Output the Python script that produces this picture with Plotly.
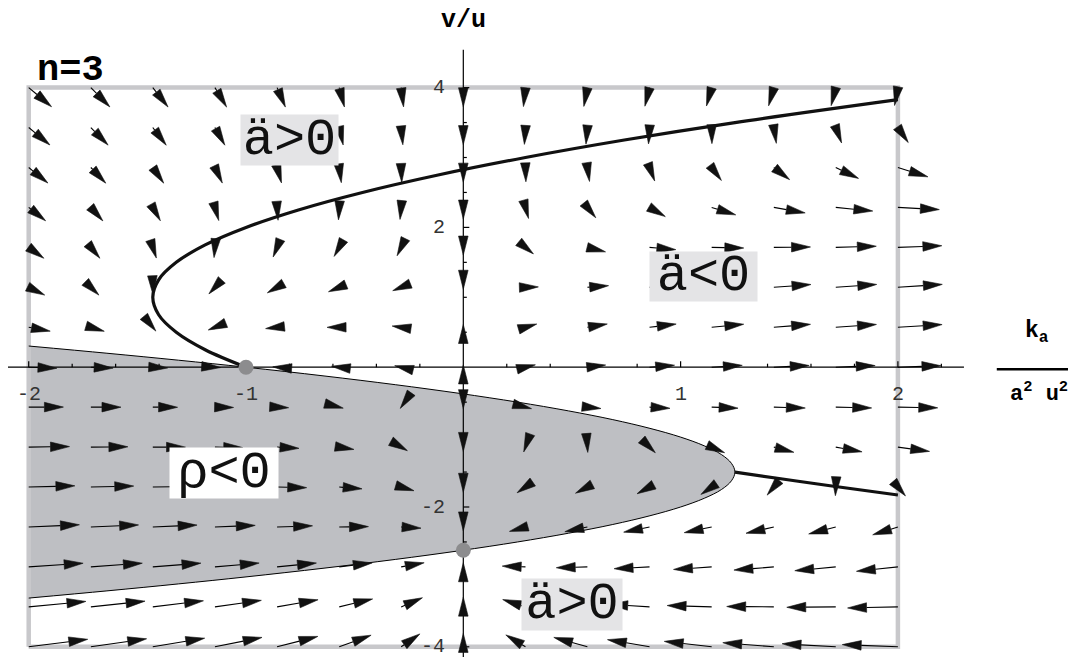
import math
import plotly.graph_objects as go

# grid of the vector field (k_a/(a^2 u^2) across, v/u down)
X_GRID = [-2.0, -1.714, -1.429, -1.143, -0.857, -0.571, -0.286, 0.0,
          0.286, 0.571, 0.857, 1.143, 1.429, 1.714, 2.0]
Y_GRID = [4.0, 3.429, 2.857, 2.286, 1.714, 1.143, 0.571, 0.0,
          -0.571, -1.143, -1.714, -2.286, -2.857, -3.429, -4.0]

# field components at each grid point, one row per Y_GRID value
U = [
    [24.8, 19.89, 15.43, 11.43, 7.89, 4.8, 2.17, 0, -1.71, -2.97, -3.77, -4.11, -4.0, -3.43, -2.4],
    [17.36, 13.5, 10.11, 7.17, 4.7, 2.67, 1.11, 0, -0.65, -0.84, -0.58, 0.14, 1.32, 2.95, 5.05],
    [11.48, 8.47, 5.91, 3.82, 2.18, 0.99, 0.27, 0, 0.19, 0.84, 1.94, 3.5, 5.52, 7.99, 10.92],
    [7.17, 4.77, 2.83, 1.35, 0.33, -0.24, -0.35, 0, 0.81, 2.07, 3.79, 5.96, 8.6, 11.69, 15.23],
    [4.43, 2.42, 0.88, -0.21, -0.85, -1.02, -0.74, 0, 1.2, 2.85, 4.96, 7.53, 10.55, 14.04, 17.98],
    [3.25, 1.41, 0.04, -0.89, -1.35, -1.36, -0.91, 0, 1.37, 3.19, 5.47, 8.2, 11.39, 15.04, 19.15],
    [3.64, 1.75, 0.32, -0.66, -1.18, -1.25, -0.85, 0, 1.31, 3.07, 5.3, 7.98, 11.11, 14.71, 18.76],
    [5.6, 3.43, 1.71, 0.46, -0.34, -0.69, -0.57, 0, 1.03, 2.51, 4.46, 6.86, 9.71, 13.03, 16.8],
    [9.13, 6.45, 4.23, 2.47, 1.17, 0.32, -0.07, 0, 0.53, 1.51, 2.95, 4.84, 7.2, 10.01, 13.27],
    [14.22, 10.82, 7.87, 5.38, 3.35, 1.78, 0.66, 0, -0.2, 0.05, 0.76, 1.93, 3.56, 5.64, 8.18],
    [20.88, 16.53, 12.63, 9.19, 6.21, 3.68, 1.61, 0, -1.16, -1.85, -2.09, -1.88, -1.2, -0.07, 1.52],
    [29.11, 23.58, 18.51, 13.89, 9.73, 6.03, 2.79, 0, -2.33, -4.2, -5.62, -6.58, -7.08, -7.12, -6.71],
    [38.91, 31.98, 25.51, 19.49, 13.93, 8.83, 4.19, 0, -3.73, -7.0, -9.82, -12.18, -14.08, -15.52, -16.51],
    [50.27, 41.72, 33.62, 25.98, 18.8, 12.08, 5.81, 0, -5.35, -10.25, -14.69, -18.67, -22.19, -25.26, -27.87],
    [63.2, 52.8, 42.86, 33.37, 24.34, 15.77, 7.66, 0, -7.2, -13.94, -20.23, -26.06, -31.43, -36.34, -40.8],
]
V = [
    [-64.6, -62.83, -61.06, -59.29, -57.51, -55.74, -53.97, -52.2, -50.43, -48.66, -46.89, -45.11, -43.34, -41.57, -39.8],
    [-44.37, -42.83, -41.29, -39.75, -38.2, -36.66, -35.12, -33.57, -32.03, -30.49, -28.95, -27.4, -25.86, -24.32, -22.77],
    [-28.96, -27.65, -26.33, -25.02, -23.71, -22.39, -21.08, -19.76, -18.45, -17.13, -15.82, -14.5, -13.19, -11.88, -10.56],
    [-17.69, -16.61, -15.52, -14.44, -13.35, -12.26, -11.18, -10.09, -9.01, -7.92, -6.84, -5.75, -4.66, -3.58, -2.49],
    [-9.89, -9.04, -8.18, -7.32, -6.46, -5.61, -4.75, -3.89, -3.04, -2.18, -1.32, -0.46, 0.39, 1.25, 2.11],
    [-4.89, -4.26, -3.64, -3.01, -2.38, -1.75, -1.12, -0.49, 0.14, 0.77, 1.39, 2.02, 2.65, 3.28, 3.91],
    [-2.02, -1.62, -1.22, -0.82, -0.42, -0.02, 0.38, 0.78, 1.18, 1.58, 1.98, 2.38, 2.78, 3.18, 3.58],
    [-0.6, -0.43, -0.26, -0.09, 0.09, 0.26, 0.43, 0.6, 0.77, 0.94, 1.11, 1.29, 1.46, 1.63, 1.8],
    [0.03, -0.02, -0.08, -0.14, -0.19, -0.25, -0.31, -0.37, -0.42, -0.48, -0.54, -0.59, -0.65, -0.71, -0.77],
    [0.56, 0.27, -0.02, -0.3, -0.59, -0.87, -1.16, -1.44, -1.73, -2.02, -2.3, -2.59, -2.87, -3.16, -3.44],
    [1.64, 1.13, 0.61, 0.1, -0.42, -0.93, -1.45, -1.96, -2.48, -2.99, -3.5, -4.02, -4.53, -5.05, -5.56],
    [3.95, 3.21, 2.47, 1.72, 0.98, 0.24, -0.5, -1.25, -1.99, -2.73, -3.48, -4.22, -4.96, -5.71, -6.45],
    [8.17, 7.2, 6.23, 5.26, 4.28, 3.31, 2.34, 1.37, 0.4, -0.57, -1.55, -2.52, -3.49, -4.46, -5.43],
    [14.96, 13.76, 12.56, 11.36, 10.16, 8.96, 7.76, 6.56, 5.36, 4.16, 2.96, 1.76, 0.56, -0.64, -1.84],
    [25.0, 23.57, 22.14, 20.71, 19.29, 17.86, 16.43, 15.0, 13.57, 12.14, 10.71, 9.29, 7.86, 6.43, 5.0],
]

# rho = 0 boundary (gray region is rho < 0)
RHO_Y = [0.303, 0.2, 0.1, 0.0, -0.125, -0.25, -0.375, -0.5, -0.625, -0.75, -0.875, -1.0,
         -1.125, -1.25, -1.375, -1.5, -1.625, -1.75, -1.875, -2.0, -2.125, -2.25,
         -2.375, -2.5, -2.625, -2.75, -2.875, -3.0, -3.1, -3.2, -3.303]
RHO_X = [-2.0, -1.64, -1.31, -1.0, -0.641, -0.313, -0.016, 0.25, 0.484, 0.688, 0.859, 1.0,
         1.109, 1.188, 1.234, 1.25, 1.234, 1.188, 1.109, 1.0, 0.859, 0.688,
         0.484, 0.25, -0.016, -0.313, -0.641, -1.0, -1.31, -1.64, -2.0]

# acceleration = 0 curve, the two visible pieces
ACC_UP_Y = [0.0, 0.25, 0.5, 0.75, 1.0, 1.25, 1.5, 1.75, 2.0, 2.25, 2.5, 2.75, 3.0, 3.25, 3.5, 3.828]
ACC_UP_X = [-1.0, -1.188, -1.321, -1.402, -1.429, -1.402, -1.321, -1.188, -1.0, -0.759,
            -0.464, -0.116, 0.286, 0.741, 1.25, 2.0]
ACC_LOW_Y = [-1.5, -1.6, -1.7, -1.828]
ACC_LOW_X = [1.25, 1.469, 1.696, 2.0]

CRIT_X = [-1.0, 0.0]
CRIT_Y = [0.0, -2.618]

X_MAJOR = [-2, -1, 1, 2]
X_MAJOR_LABELS = ["-2", "-1", "1", "2"]
Y_MAJOR = [-4, -2, 2, 4]
Y_MAJOR_LABELS = ["-4", "-2", "2", "4"]

REGION_TEXT = ["ä>0", "ä<0", "ä>0", "ρ<0"]
REGION_X = [-0.80, 1.105, 0.50, -1.10]
REGION_Y = [3.25, 1.30, -3.39, -1.52]

# page geometry (the page body puts the figure 8px in from the corner)
W, H = 1076, 657
XR = [-2.0953, 2.8564]
YR = [-4.2603, 5.1388]
KX = W / (XR[1] - XR[0])
KY = H / (YR[1] - YR[0])

ARROW_SCALE = 0.069   # data length per log unit of the field magnitude
HEAD_LEN = 19.0       # px
HEAD_HALF = 4.8       # px

shaft_x, shaft_y, head_x, head_y = [], [], [], []
for j, y0 in enumerate(Y_GRID):
    for i, x0 in enumerate(X_GRID):
        u, v = U[j][i], V[j][i]
        m = math.hypot(u, v)
        if m == 0:
            continue
        length = ARROW_SCALE * math.log1p(m)
        px = length * u / m * KX
        py = length * v / m * KY
        lp = math.hypot(px, py)
        ex, ey = px / lp, py / lp
        bx, by = px - HEAD_LEN * ex, py - HEAD_LEN * ey
        nx, ny = -ey, ex
        head_x += [x0 + px / KX, x0 + (bx + HEAD_HALF * nx) / KX,
                   x0 + (bx - HEAD_HALF * nx) / KX, x0 + px / KX, None]
        head_y += [y0 + py / KY, y0 + (by + HEAD_HALF * ny) / KY,
                   y0 + (by - HEAD_HALF * ny) / KY, y0 + py / KY, None]
        if lp > HEAD_LEN:
            shaft_x += [x0, x0 + bx / KX, None]
            shaft_y += [y0, y0 + by / KY, None]

# axes with ticks
ax_x = [-2.105, 2.304, None, 0, 0, None]
ax_y = [0, 0, None, -4.3, 4.54, None]
for k in range(-10, 12):
    if k == 0:
        continue
    t = k * 0.2
    size = 6.0 if abs(t - round(t)) < 1e-6 else 3.5
    ax_x += [t, t, None]
    ax_y += [0, size / KY, None]
for k in range(-8, 9):
    if k == 0:
        continue
    t = k * 0.5
    size = 6.0 if t in (-4, -2, 2, 4) else 3.5
    ax_x += [0, size / KX, None]
    ax_y += [t, t, None]

fig = go.Figure()
fig.add_trace(go.Scatter(x=RHO_X, y=RHO_Y, mode='lines', fill='toself',
                         fillcolor='#bebfc3', line=dict(width=0, shape='spline'),
                         hoverinfo='skip'))
fig.add_trace(go.Scatter(x=[-2, 2, 2, -2, -2], y=[-4, -4, 4, 4, -4], mode='lines',
                         line=dict(color='#c8c8cb', width=4.5), hoverinfo='skip'))
fig.add_trace(go.Scatter(x=RHO_X, y=RHO_Y, mode='lines',
                         line=dict(color='black', width=1, shape='spline'), hoverinfo='skip'))
fig.add_trace(go.Scatter(x=ax_x, y=ax_y, mode='lines',
                         line=dict(color='black', width=1.2), hoverinfo='skip'))
fig.add_trace(go.Scatter(x=shaft_x, y=shaft_y, mode='lines',
                         line=dict(color='black', width=1.1), hoverinfo='skip'))
fig.add_trace(go.Scatter(x=head_x, y=head_y, mode='lines', fill='toself',
                         fillcolor='#111111', line=dict(color='#111111', width=0.6),
                         hoverinfo='skip'))
for cx, cy in [(ACC_UP_X, ACC_UP_Y), (ACC_LOW_X, ACC_LOW_Y)]:
    fig.add_trace(go.Scatter(x=cx, y=cy, mode='lines',
                             line=dict(color='#111111', width=3.2, shape='spline'),
                             hoverinfo='skip'))
fig.add_trace(go.Scatter(x=CRIT_X, y=CRIT_Y, mode='markers',
                         marker=dict(size=15, color='#8c8c8e'), hoverinfo='skip'))

mono = "Liberation Mono"
ann = []
for t, lab in zip(X_MAJOR, X_MAJOR_LABELS):
    ann.append(dict(x=t, y=0, text=lab, showarrow=False, yshift=-27,
                    font=dict(family=mono, size=20, color='#333333')))
for t, lab in zip(Y_MAJOR, Y_MAJOR_LABELS):
    ann.append(dict(x=0, y=t, text=lab, showarrow=False, xanchor='right', xshift=-16,
                    font=dict(family=mono, size=20, color='#333333')))

boxes = [('#e4e4e6', 97, 50), ('#e4e4e6', 107, 49), ('#e4e4e6', 100, 51), ('white', 108, 50)]
for t, x, y, (bg, bw, bh) in zip(REGION_TEXT, REGION_X, REGION_Y, boxes):
    ann.append(dict(x=x, y=y, text=t, showarrow=False, bgcolor=bg, width=bw, height=bh,
                    borderpad=0, font=dict(family=mono, size=52, color='#111111')))

ann.append(dict(x=0, y=4.96, text='<b>v/u</b>', showarrow=False, borderpad=0,
                font=dict(family=mono, size=25, color='black')))
ann.append(dict(x=-1.81, y=4.25, text='<b>n=3</b>', showarrow=False,
                font=dict(family=mono, size=37, color='black')))
ann.append(dict(x=2.64, y=0.5, text='<b>k<sub>a</sub></b>', showarrow=False,
                font=dict(family=mono, size=23, color='black')))
ann.append(dict(x=2.65, y=-0.36, text='<b>a<sup>2</sup> u<sup>2</sup></b>', showarrow=False,
                font=dict(family=mono, size=22, color='black')))

fig.update_layout(
    width=W, height=H,
    margin=dict(l=0, r=0, t=0, b=0, pad=0),
    paper_bgcolor='white', plot_bgcolor='white',
    showlegend=False,
    xaxis=dict(range=XR, visible=False, fixedrange=True),
    yaxis=dict(range=YR, visible=False, fixedrange=True),
    annotations=ann,
    shapes=[dict(type='line', xref='x', yref='y', x0=2.455, x1=2.815, y0=-0.03, y1=-0.03,
                 line=dict(color='black', width=2.5))],
)

fig.write_html("out.html")
